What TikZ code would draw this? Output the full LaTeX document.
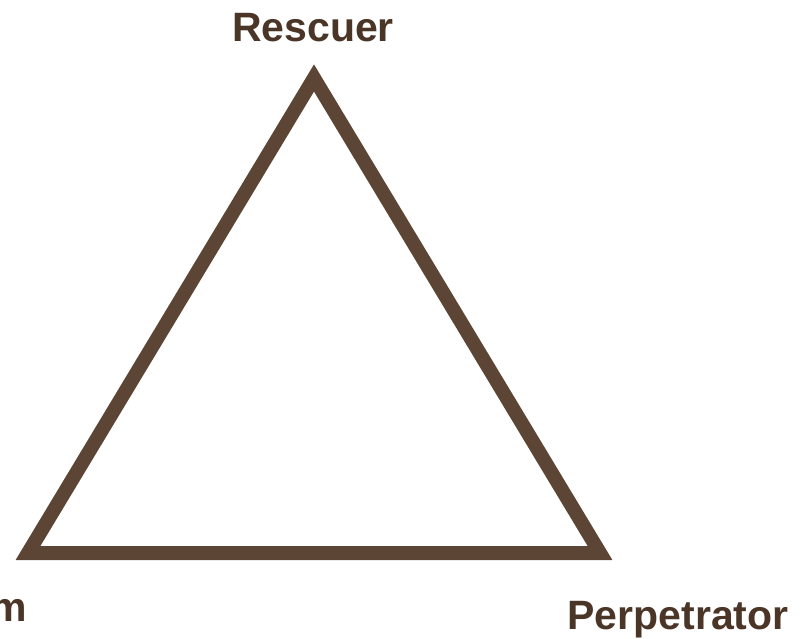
\documentclass[tikz,border=0pt]{standalone}
\usepackage{fontspec}
\setmainfont{Liberation Sans}
\definecolor{linebrown}{HTML}{5C4535}
\definecolor{textbrown}{HTML}{4A3527}
\begin{document}
\begin{tikzpicture}[x=1pt,y=-1pt,
  lbl/.style={inner sep=0pt, anchor=base, text=textbrown, font=\fontsize{41}{48}\selectfont\bfseries},
  edge/.style={draw=linebrown, line width=14pt, line join=miter}]
\useasboundingbox (0,0) rectangle (804,639);
\clip (0,0) rectangle (804,639);
\coordinate (R) at (314,78);
\coordinate (V) at (28,553);
\coordinate (P) at (600,553);
\draw[edge] (R) -- (V) -- (P) -- cycle;
\node[lbl] (rescuer) at (313,42) {Rescuer};
\node[lbl, anchor=base east] (victim) at (27,621) {Victim};
\node[lbl] (perp) at (678,629) {Perpetrator};
\end{tikzpicture}
\end{document}
